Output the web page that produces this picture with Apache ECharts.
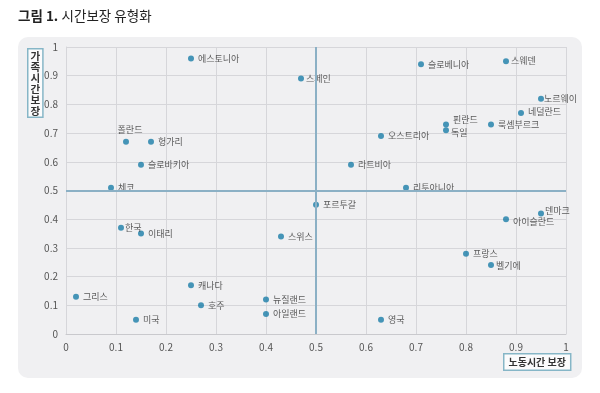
<!DOCTYPE html>
<html><head><meta charset="utf-8">
<script src="https://cdn.jsdelivr.net/npm/echarts@6/dist/echarts.min.js"></script>
<style>html,body{margin:0;padding:0;background:#fff}#c{width:600px;height:393px}</style>
</head><body><div id="c"></div>
<script>
const countries = ['에스토니아','스페인','슬로베니아','스웨덴','노르웨이','네덜란드','룩셈부르크','핀란드','독일','오스트리아','폴란드','헝가리','슬로바키아','체코','라트비아','리투아니아','포르투갈','덴마크','아이슬란드','프랑스','벨기에','한국','이태리','스위스','캐나다','그리스','호주','뉴질랜드','아일랜드','미국','영국'];
const workGuarantee = [0.25,0.47,0.71,0.88,0.95,0.91,0.85,0.76,0.76,0.63,0.12,0.17,0.15,0.09,0.57,0.68,0.50,0.95,0.88,0.80,0.85,0.11,0.15,0.43,0.25,0.02,0.27,0.40,0.40,0.14,0.63];
const familyGuarantee = [0.96,0.89,0.94,0.95,0.82,0.77,0.73,0.73,0.71,0.69,0.67,0.67,0.59,0.51,0.59,0.51,0.45,0.42,0.40,0.28,0.24,0.37,0.35,0.34,0.17,0.13,0.10,0.12,0.07,0.05,0.05];
const axisTicks = [0,0.1,0.2,0.3,0.4,0.5,0.6,0.7,0.8,0.9,1];
const titleText = '그림 1.';
const titleSub = '시간보장 유형화';
const xName = '노동시간 보장';
const yName = '가족시간보장';

// label placement styles (presentation only)
const labelStyle = {
  '폴란드': {position:'top', offset:[4,-1]},
  '핀란드': {position:'right', offset:[0,-5]},
  '독일': {position:'right', offset:[-2,2]},
  '덴마크': {position:'right', offset:[-3,-3]},
  '아이슬란드': {position:'right', offset:[0,2]},
  '노르웨이': {position:'right', offset:[-4,0]},
  '스웨덴': {position:'right', offset:[-2,-1]},
  '한국': {position:'right', offset:[-3,0]},
  '네덜란드': {position:'right', offset:[0,-1]},
  '벨기에': {position:'right', offset:[-2,0]},
  '스페인': {position:'right', offset:[-2,0]}
};

const font = '"Noto Sans CJK KR", "Noto Sans", sans-serif';
const pts = countries.map((n,i)=>{
  const o = {name:n, value:[workGuarantee[i], familyGuarantee[i]]};
  if (labelStyle[n]) o.label = labelStyle[n];
  return o;
});

const chart = echarts.init(document.getElementById('c'));
chart.setOption({
  backgroundColor:'#fff',
  animation:false,
  graphic:[
    {type:'rect', z:-10, shape:{x:18,y:37,width:564,height:341,r:10}, style:{fill:'#f0f0f2'}},
    {type:'text', left:18, top:9, style:{
      text:'{b|'+titleText+'} {n|'+titleSub+'}',
      rich:{b:{fontSize:13.5,fontWeight:'bold',fill:'#222',fontFamily:font},
            n:{fontSize:13.5,fill:'#222',fontFamily:font}}
    }},
    {type:'text', left:27, top:48, z:10, style:{
      text:yName.split('').join('\n'), fontSize:10.5, fontWeight:'bold', lineHeight:11, fill:'#333', fontFamily:font,
      backgroundColor:'#fbfbfc', borderColor:'#86b6c7', borderWidth:1.5, padding:[1,2,0,2]
    }},
    {type:'text', left:503, top:353, z:10, style:{
      text:xName, fontSize:10, fontWeight:'bold', fill:'#333', fontFamily:font,
      backgroundColor:'#fbfbfc', borderColor:'#86b6c7', borderWidth:1.5, padding:[3,4,2,4]
    }}
  ],
  grid:{left:66, right:34, top:47, bottom:59},
  xAxis:{type:'value', min:axisTicks[0], max:axisTicks[axisTicks.length-1], interval:0.1,
    axisLine:{show:true, lineStyle:{color:'#c9c9cd'}}, axisTick:{show:false},
    axisLabel:{color:'#555', fontSize:10, fontFamily:font, margin:8},
    splitLine:{show:true, lineStyle:{color:'#d6d6da'}}},
  yAxis:{type:'value', min:axisTicks[0], max:axisTicks[axisTicks.length-1], interval:0.1,
    axisLine:{show:true, lineStyle:{color:'#d6d6da'}}, axisTick:{show:false},
    axisLabel:{color:'#555', fontSize:10, fontFamily:font, margin:8},
    splitLine:{show:true, lineStyle:{color:'#d6d6da'}}},
  series:[{
    type:'scatter', symbolSize:6,
    itemStyle:{color:'#1a7da8'},
    label:{show:true, position:'right', distance:4, formatter:'{b}', color:'#333', fontSize:9, fontFamily:font},
    data:pts,
    markLine:{silent:true, symbol:'none', label:{show:false},
      lineStyle:{color:'#8bb0c5', width:2, type:'solid'},
      data:[{xAxis:0.5},{yAxis:0.5}]}
  }]
});
</script></body></html>
